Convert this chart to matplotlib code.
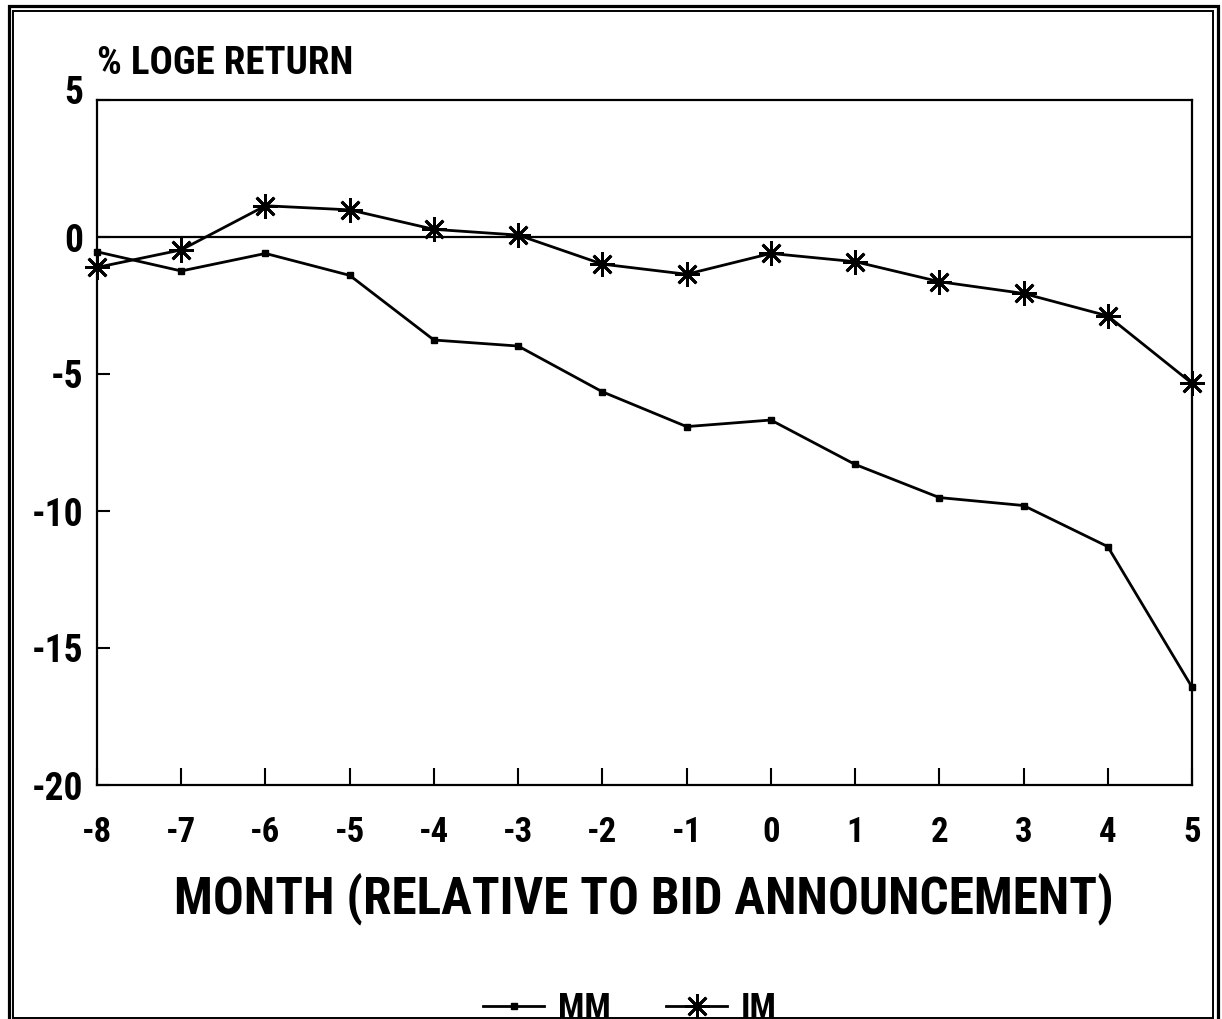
import matplotlib
matplotlib.use("Agg")
import matplotlib.pyplot as plt
from matplotlib.patches import Rectangle
from matplotlib.transforms import ScaledTranslation
from matplotlib.lines import Line2D

months = [-8, -7, -6, -5, -4, -3, -2, -1, 0, 1, 2, 3, 4, 5]
mm = [-0.54, -1.24, -0.60, -1.40, -3.76, -3.98, -5.65, -6.92, -6.68, -8.30, -9.51, -9.80, -11.30, -16.43]
im = [-1.11, -0.47, 1.14, 0.99, 0.28, 0.07, -0.99, -1.36, -0.60, -0.90, -1.63, -2.06, -2.88, -5.34]
yticks = [5, 0, -5, -10, -15, -20]
ytick_labels = ["5", "0", "-5", "-10", "-15", "-20"]
xtick_labels = [str(m) for m in months]

FONT = ["Roboto Condensed", "PT Sans Narrow", "Liberation Sans", "DejaVu Sans"]
plt.rcParams["font.family"] = FONT
plt.rcParams["font.weight"] = "bold"

W, H = 1222, 1019
fig = plt.figure(figsize=(W / 100, H / 100), dpi=100)
ax = fig.add_axes([97 / W, 1 - 785 / H, (1192 - 97) / W, (785 - 100) / H])

asterisk = (8, 2, 0)
ax.plot(months, mm, color="black", lw=2.0, marker="s", ms=5, mfc="black", mec="black", clip_on=False, zorder=3)
ax.plot(months, im, color="black", lw=2.0, marker=asterisk, ms=18, mew=2.0, mec="black", clip_on=False, zorder=3)
ax.axhline(0, color="black", lw=1.6, zorder=2)

ax.set_xlim(-8, 5)
ax.set_ylim(-20, 5)
ax.set_xticks(months)
ax.set_xticklabels(xtick_labels, fontsize=25, fontweight="bold")
ax.set_yticks(yticks)
ax.set_yticklabels(ytick_labels, fontsize=27, fontweight="bold")
ax.tick_params(axis="x", direction="in", length=12, width=1.5, pad=22)
ax.tick_params(axis="y", direction="in", length=9, width=1.5, pad=10)
for s in ax.spines.values():
    s.set_linewidth(1.6)

# the top "5" label sits a little above its tick in the reference
lbl = ax.get_yticklabels()[0]
lbl.set_transform(lbl.get_transform() + ScaledTranslation(0, 0.11, fig.dpi_scale_trans))

fig.text(97 / W, 1 - 74 / H, "% LOGE RETURN", fontsize=28, fontweight="bold", ha="left", va="baseline")
fig.text(644 / W, 1 - 913 / H, "MONTH (RELATIVE TO BID ANNOUNCEMENT)", fontsize=37, fontweight="bold",
         ha="center", va="baseline")

handles = [
    Line2D([], [], color="black", lw=2.0, marker="s", ms=5),
    Line2D([], [], color="black", lw=2.0, marker=asterisk, ms=18, mew=2.0),
]
fig.legend(handles, ["MM", "IM"], loc="center", bbox_to_anchor=(630 / W, 1 - 1009 / H), ncol=2,
           frameon=False, prop={"family": FONT, "weight": "bold", "size": 25}, handlelength=1.75,
           columnspacing=1.6, handletextpad=0.4, borderpad=0, borderaxespad=0)

# double border
def px_rect(x0, y0, x1, y1, lw):
    r = Rectangle((x0 / W, 1 - y1 / H), (x1 - x0) / W, (y1 - y0) / H, transform=fig.transFigure,
                  fill=False, edgecolor="black", lw=lw, zorder=10)
    fig.add_artist(r)

px_rect(8.5, 5.5, 1217.5, 1023, 2.3)
px_rect(13, 10.5, 1213, 1017.5, 1.4)

fig.savefig("out.png", dpi=100, facecolor="white")
